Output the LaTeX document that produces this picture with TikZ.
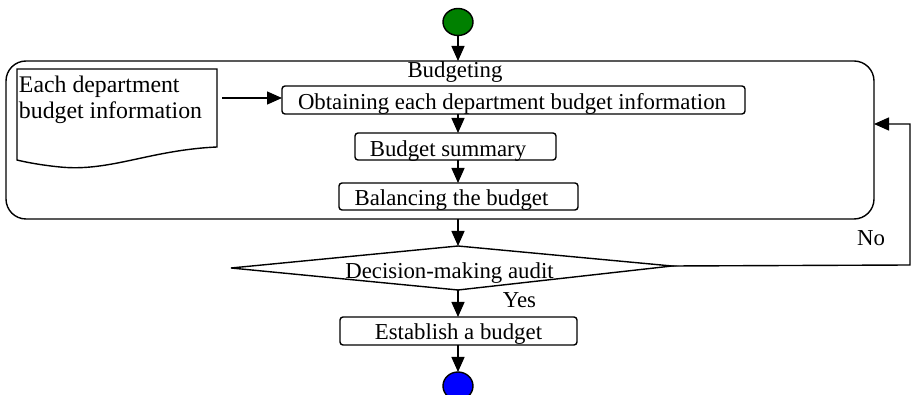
\documentclass[tikz,border=0pt]{standalone}
\usepackage{fontspec}
\setmainfont{Liberation Serif}
\usetikzlibrary{arrows.meta,shapes.geometric}
\begin{document}
\begin{tikzpicture}[x=1pt,y=-1pt,
  every node/.style={inner sep=0pt, outer sep=0pt},
  line/.style={line width=1.4pt},
  flow/.style={line width=1.4pt, -{Triangle[length=15pt,width=13pt]}},
  box/.style={draw, line width=1.4pt, rounded corners=3pt, rectangle},
  txt/.style={font=\fontsize{22.8}{26}\selectfont, anchor=base},
  term/.style={draw, line width=1.4pt, ellipse},
]
\useasboundingbox (0,0) rectangle (911,395);
% start / end
\node[term, fill={rgb,255:red,0;green,128;blue,0}, minimum width=30pt, minimum height=27pt] (start) at (458,22) {};
\node[term, fill={rgb,255:red,0;green,0;blue,255}, minimum width=30pt, minimum height=28pt] (end) at (458,386) {};
% container
\node[draw, line width=1.4pt, rounded corners=20pt, minimum width=868pt, minimum height=158pt] (budgeting) at (440,140) {};
\node[txt] (budgetingtxt) at (455,78) {Budgeting};
% document shape
\draw[line] (17,69) coordinate (d1) -- (217,69) coordinate (d2) -- (217,147) coordinate (d3)
  .. controls (150,150) and (110,172) .. (60,167)
  .. controls (40,165) and (25,162) .. (17,160) coordinate (d4) -- cycle;
\node[txt, anchor=base west, align=left, font=\fontsize{23.8}{26}\selectfont] (doctxt) at (19,119) {Each department\\budget information};
\coordinate (docout) at (222,98);
% boxes
\node[box, minimum width=463pt, minimum height=28pt] (obtain) at (513.5,100) {};
\node[txt] (obtaintxt) at (512,110) {Obtaining each department budget information};
\node[box, minimum width=201pt, minimum height=27pt] (summary) at (455.5,146.5) {};
\node[txt] (summarytxt) at (448,157) {Budget summary};
\node[box, minimum width=239pt, minimum height=27pt] (balance) at (458.5,196.5) {};
\node[txt] (balancetxt) at (451.5,206) {Balancing the budget};
\node[box, minimum width=237pt, minimum height=28pt] (establish) at (458.5,331) {};
\node[txt] (establishtxt) at (458.5,340) {Establish a budget};
% decision diamond
\coordinate (decW) at (231,268);
\coordinate (decN) at (458,246);
\coordinate (decE) at (672,266);
\coordinate (decS) at (458,290);
\draw[line, line join=miter] (decW) -- (decN) -- (decE) -- (decS) -- cycle;
\node[txt] (dectxt) at (449.5,279) {Decision-making audit};
\node[txt] (yes) at (519.5,308) {Yes};
\node[txt] (no) at (871,246) {No};
% connectors
\draw[flow] (start.south) -- (start.south |- budgeting.north);
\draw[flow] (docout) -- (obtain.west |- docout);
\draw[flow] (obtain.south -| start) -- (summary.north -| start);
\draw[flow] (summary.south -| start) -- (balance.north -| start);
\draw[flow] (budgeting.south -| start) -- (decN);
\draw[flow] (decS) -- (establish.north -| decS);
\draw[flow] (establish.south -| start) -- (end.north);
\coordinate (loopin) at (874,124);
\draw[flow] (decE) -- (910,265) |- (loopin);
\end{tikzpicture}
\end{document}
